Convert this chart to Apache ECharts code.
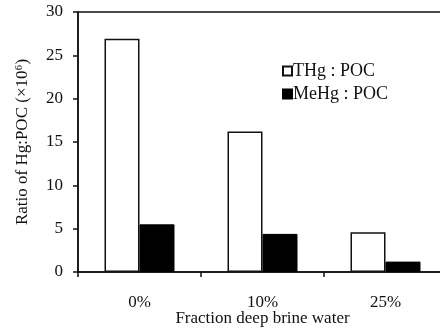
<!DOCTYPE html>
<html>
<head>
<meta charset="utf-8">
<script src="https://cdn.jsdelivr.net/npm/echarts@6/dist/echarts.min.js"></script>
<style>
  html, body { margin: 0; padding: 0; background: #fff; overflow: hidden; }
  #chart { width: 452px; height: 330px; }
</style>
</head>
<body>
<div id="chart"></div>
<script>
// data
var categories = ['0%', '10%', '25%'];
var thgPoc = [26.9, 16.2, 4.6];
var mehgPoc = [5.5, 4.4, 1.2];
var yTicks = { min: 0, max: 30, interval: 5 };

var serif = '"Liberation Serif", "DejaVu Serif", serif';

var myChart = echarts.init(document.getElementById('chart'));

var option = {
    backgroundColor: '#fff',
    textStyle: { fontFamily: serif, color: '#111' },
    grid: {
        left: 78, right: 5, top: 12, bottom: 58,
        outerBoundsMode: 'none',
        containLabel: false,
        show: true, borderColor: '#111', borderWidth: 1.5,
        backgroundColor: 'transparent'
    },
    legend: {
        orient: 'vertical',
        left: 277, top: 57,
        itemWidth: 9, itemHeight: 9, itemGap: 5,
        icon: 'rect',
        textStyle: { fontFamily: serif, fontSize: 18, color: '#111', padding: [0, 0, 0, -4] },
        data: ['THg : POC', 'MeHg : POC']
    },
    xAxis: {
        type: 'category',
        data: categories,
        name: 'Fraction deep brine water',
        nameLocation: 'middle',
        nameGap: 38,
        nameMoveOverlap: false,
        nameTextStyle: { fontFamily: serif, fontSize: 17, color: '#111' },
        axisLine: { lineStyle: { color: '#111', width: 1.5 } },
        axisTick: { show: true, length: 5, lineStyle: { color: '#111', width: 1.5 } },
        axisLabel: { fontFamily: serif, fontSize: 17, color: '#111', margin: 22 }
    },
    yAxis: {
        type: 'value',
        min: yTicks.min, max: yTicks.max, interval: yTicks.interval,
        name: 'Ratio of Hg:POC (\u00d710\u2076)',
        nameLocation: 'middle',
        nameGap: 47,
        nameMoveOverlap: false,
        nameTextStyle: { fontFamily: serif, fontSize: 17, color: '#111' },
        axisLine: { show: true, lineStyle: { color: '#111', width: 1.5 } },
        axisTick: { show: true, length: 5, lineStyle: { color: '#111', width: 1.5 } },
        axisLabel: { fontFamily: serif, fontSize: 17, color: '#111', margin: 15 },
        splitLine: { show: false }
    },
    series: [{
        name: 'THg : POC',
        type: 'bar',
        data: thgPoc,
        barWidth: 35,
        barGap: '0%',
        itemStyle: { color: '#fff', borderColor: '#111', borderWidth: 1.5 }
    }, {
        name: 'MeHg : POC',
        type: 'bar',
        data: mehgPoc,
        barWidth: 35,
        barGap: '0%',
        itemStyle: { color: '#000', borderColor: '#000', borderWidth: 1 }
    }]
};

myChart.setOption(option);
</script>
</body>
</html>
